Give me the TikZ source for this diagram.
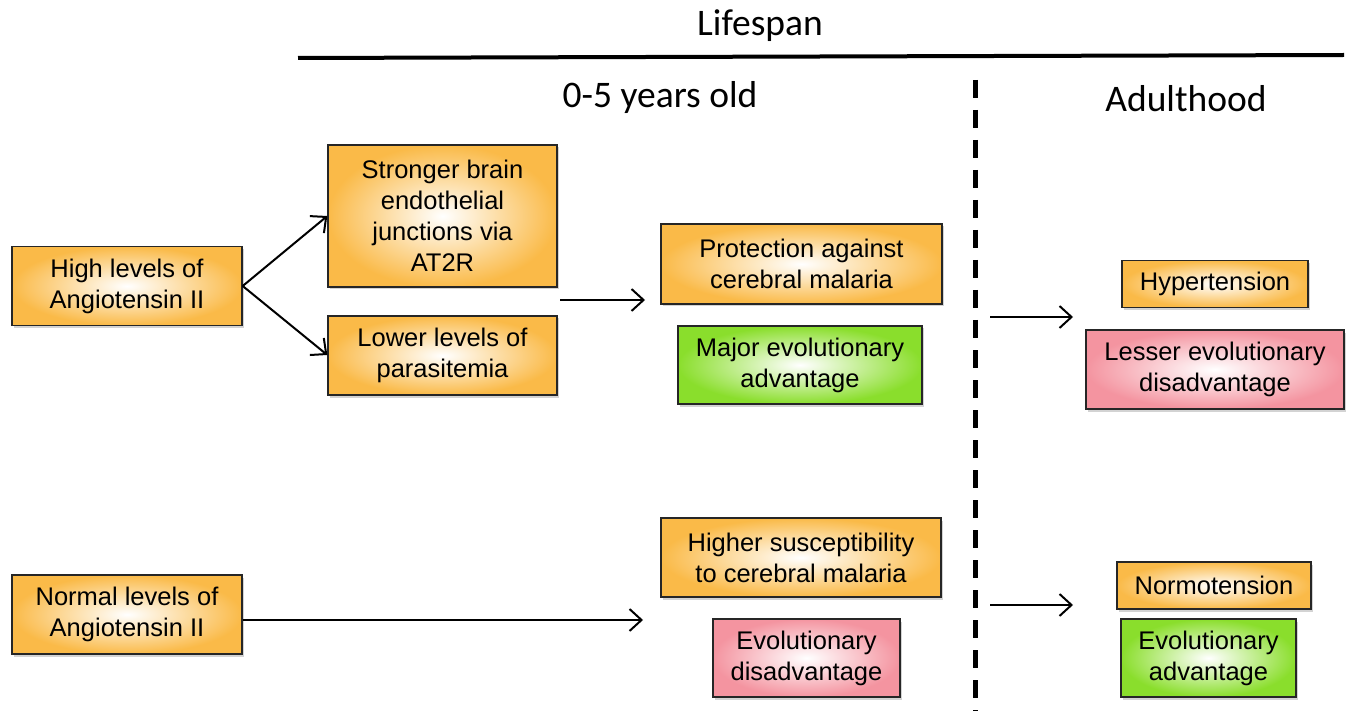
\documentclass[tikz,border=0pt]{standalone}
\usepackage{fontspec}
\setmainfont{Liberation Sans}
\newfontfamily\hdr{Carlito}
\usetikzlibrary{arrows.meta,shadows}
\definecolor{orng}{RGB}{250,186,72}
\definecolor{grn}{RGB}{138,222,44}
\definecolor{pnk}{RGB}{244,148,160}
\tikzset{
  box/.style={draw=black!85, line width=1.4pt, shading=radial, inner color=white,
    align=center, font=\fontsize{25.5}{31}\selectfont, inner sep=0pt,
    drop shadow={opacity=0.35, shadow xshift=2pt, shadow yshift=-2.5pt}},
  obox/.style={box, outer color=orng},
  gbox/.style={box, outer color=grn},
  pbox/.style={box, outer color=pnk},
  arr/.style={-{Straight Barb[length=12pt,width=22pt,line width=2pt]}, line width=2pt},
  hd/.style={font=\hdr\fontsize{37.5}{40}\selectfont}
}
\begin{document}
\begin{tikzpicture}[x=1pt,y=-1pt]
\useasboundingbox (0,0) rectangle (1352,711);
\node[hd] (life) at (760,26) {Lifespan};
\node[hd] (young) at (660,98) {0-5 years old};
\node[hd] (adult) at (1186,99) {Adulthood};
\coordinate (tl) at (298,58);
\coordinate (tr) at (1344,55);
\draw[line width=4pt] (tl) -- (tr);
\coordinate (dtop) at (975,80);
\coordinate (dbot) at (975,711);
\draw[line width=5pt, dash pattern=on 18pt off 12pt] (dtop) -- (dbot);

\node[obox, minimum width=230pt, minimum height=79pt] (high) at (127,286) {High levels of\\Angiotensin II};
\node[obox, minimum width=229pt, minimum height=142pt] (strong) at (442.5,216) {Stronger brain\\endothelial\\junctions via\\AT2R};
\node[obox, minimum width=229pt, minimum height=79pt] (lower) at (442.5,355.5) {Lower levels of\\parasitemia};
\node[obox, minimum width=281pt, minimum height=80pt] (prot) at (801.5,264) {Protection against\\cerebral malaria};
\node[gbox, minimum width=244pt, minimum height=78pt] (major) at (800,365) {Major evolutionary\\advantage};
\node[obox, minimum width=186pt, minimum height=47pt] (hyper) at (1215,284) {Hypertension};
\node[pbox, minimum width=258pt, minimum height=79pt] (lesser) at (1215,369.5) {Lesser evolutionary\\disadvantage};
\node[obox, minimum width=230pt, minimum height=79pt] (normal) at (127,614.5) {Normal levels of\\Angiotensin II};
\node[obox, minimum width=280pt, minimum height=79pt] (higher) at (801,557.5) {Higher susceptibility\\to cerebral malaria};
\node[pbox, minimum width=187pt, minimum height=78pt] (evdis) at (806.5,658) {Evolutionary\\disadvantage};
\node[obox, minimum width=194pt, minimum height=47pt] (normo) at (1214,585.5) {Normotension};
\node[gbox, minimum width=175pt, minimum height=78pt] (evadv) at (1208.5,658) {Evolutionary\\advantage};

\draw[arr] (high.east) -- (strong.west);
\draw[arr] (high.east) -- (lower.west |- 0,355);
\coordinate (a1s) at (560,300);
\coordinate (a1e) at (645,300);
\draw[arr] (a1s) -- (a1e);
\coordinate (a2s) at (990,317);
\coordinate (a2e) at (1073,317);
\draw[arr] (a2s) -- (a2e);
\coordinate (a3e) at (643,620);
\draw[arr] (normal.east |- 0,620) -- (a3e);
\coordinate (a4s) at (990,605);
\coordinate (a4e) at (1073,605);
\draw[arr] (a4s) -- (a4e);
\end{tikzpicture}
\end{document}
